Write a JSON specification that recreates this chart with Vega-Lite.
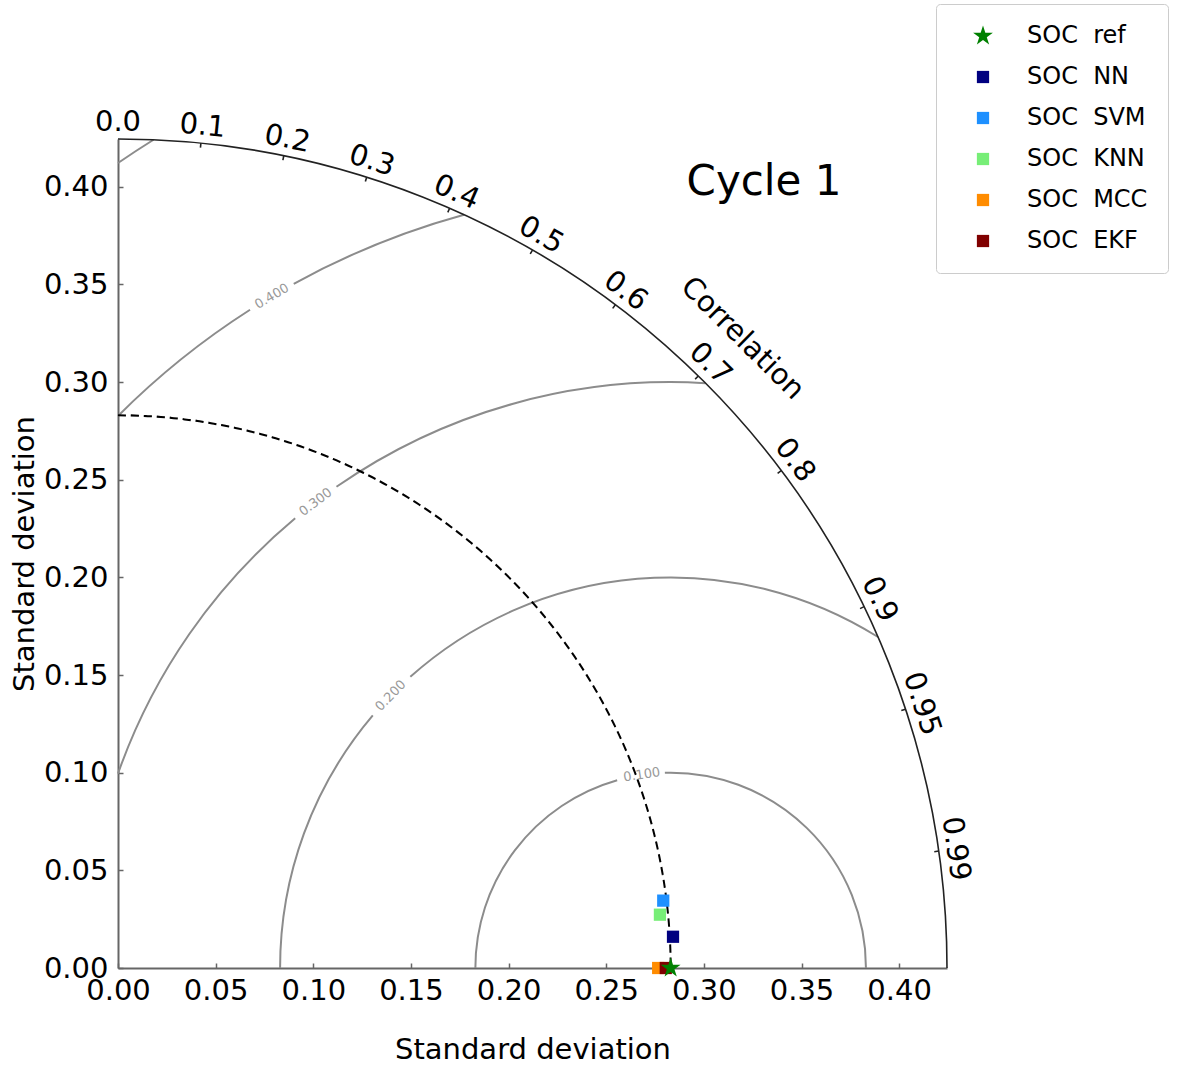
{
  "$schema": "https://vega.github.io/schema/vega-lite/v6.json",
  "width": 829,
  "height": 829,
  "autosize": "none",
  "padding": {"left": 118, "top": 139, "right": 245, "bottom": 100},
  "background": "white",
  "config": {
    "font": "DejaVu Sans",
    "view": {"stroke": null},
    "axis": {
      "labelFont": "DejaVu Sans", "labelFontSize": 29, "labelColor": "#000",
      "titleFont": "DejaVu Sans", "titleFontSize": 29, "titleFontWeight": "normal", "titleColor": "#000",
      "domainColor": "#666", "domainWidth": 2, "tickColor": "#666", "tickWidth": 1.5, "tickSize": -5,
      "grid": false, "labelFlush": false, "labelOverlap": false
    }
  },
  "datasets": {
    "contours": [
      {"cx": 0.283, "cy": 0, "r": 0.1, "t1": 90, "t2": -1.7},
      {"cx": 0.283, "cy": 0, "r": 0.1, "t1": -15.9, "t2": -90},
      {"cx": 0.283, "cy": 0, "r": 0.2, "t1": 32.07, "t2": -41.8},
      {"cx": 0.283, "cy": 0, "r": 0.2, "t1": -49.7, "t2": -90},
      {"cx": 0.283, "cy": 0, "r": 0.3, "t1": 3.41, "t2": -34.78},
      {"cx": 0.283, "cy": 0, "r": 0.3, "t1": -39.86, "t2": -70.62},
      {"cx": 0.283, "cy": 0, "r": 0.4, "t1": -15.34, "t2": -28.85},
      {"cx": 0.283, "cy": 0, "r": 0.4, "t1": -32.58, "t2": -45.03},
      {"cx": 0.283, "cy": 0, "r": 0.5, "t1": -31.98, "t2": -34.47}
    ],
    "contourLabels": [
      {"lab": "0.100", "r": 0.1, "t": -8.5},
      {"lab": "0.200", "r": 0.2, "t": -45.8},
      {"lab": "0.300", "r": 0.3, "t": -37.3},
      {"lab": "0.400", "r": 0.4, "t": -30.7}
    ],
    "frame": [
      {"r": 0.4245, "r2": 0.4245, "t1": 0, "t2": 90},
      {"r": 0.4245, "r2": 0.4222, "t1": 5.739, "t2": 5.739},
      {"r": 0.4245, "r2": 0.4222, "t1": 11.537, "t2": 11.537},
      {"r": 0.4245, "r2": 0.4222, "t1": 17.458, "t2": 17.458},
      {"r": 0.4245, "r2": 0.4222, "t1": 23.578, "t2": 23.578},
      {"r": 0.4245, "r2": 0.4222, "t1": 30.0, "t2": 30.0},
      {"r": 0.4245, "r2": 0.4222, "t1": 36.87, "t2": 36.87},
      {"r": 0.4245, "r2": 0.4222, "t1": 44.427, "t2": 44.427},
      {"r": 0.4245, "r2": 0.4222, "t1": 53.13, "t2": 53.13},
      {"r": 0.4245, "r2": 0.4222, "t1": 64.158, "t2": 64.158},
      {"r": 0.4245, "r2": 0.4222, "t1": 71.805, "t2": 71.805},
      {"r": 0.4245, "r2": 0.4222, "t1": 81.89, "t2": 81.89}
    ],
    "refArc": [{"r": 0.283, "t1": 0, "t2": 90}],
    "corrLabels": [
      {"lab": "0.0", "t": 0},
      {"lab": "0.1", "t": 5.739},
      {"lab": "0.2", "t": 11.537},
      {"lab": "0.3", "t": 17.458},
      {"lab": "0.4", "t": 23.578},
      {"lab": "0.5", "t": 30.0},
      {"lab": "0.6", "t": 36.87},
      {"lab": "0.7", "t": 44.427},
      {"lab": "0.8", "t": 53.13},
      {"lab": "0.9", "t": 64.158},
      {"lab": "0.95", "t": 71.805},
      {"lab": "0.99", "t": 81.89}
    ],
    "points": [
      {"m": "SOC MCC", "x": 0.2766, "y": 0.0},
      {"m": "SOC EKF", "x": 0.2805, "y": 0.0},
      {"m": "SOC KNN", "x": 0.2775, "y": 0.0273},
      {"m": "SOC SVM", "x": 0.2792, "y": 0.0345},
      {"m": "SOC NN", "x": 0.2842, "y": 0.016},
      {"m": "SOC ref", "x": 0.283, "y": 0.0}
    ]
  },
  "layer": [
    {
      "data": {"name": "points"},
      "mark": {"type": "point", "opacity": 0},
      "encoding": {
        "x": {"field": "x", "type": "quantitative", "scale": {"domain": [0, 0.4245], "nice": false, "zero": false},
              "axis": {"title": "Standard deviation", "values": [0, 0.05, 0.1, 0.15, 0.2, 0.25, 0.3, 0.35, 0.4], "format": ".2f", "labelPadding": 13, "titlePadding": 30}},
        "y": {"field": "y", "type": "quantitative", "scale": {"domain": [0, 0.4245], "nice": false, "zero": false},
              "axis": {"title": "Standard deviation", "values": [0, 0.05, 0.1, 0.15, 0.2, 0.25, 0.3, 0.35, 0.4], "format": ".2f", "labelPadding": 15, "titlePadding": 4}}
      }
    },
    {
      "data": {"name": "contours"},
      "mark": {"type": "arc", "filled": false, "stroke": "#8c8c8c", "strokeWidth": 2},
      "encoding": {
        "x": {"field": "cx", "type": "quantitative"},
        "y": {"field": "cy", "type": "quantitative"},
        "theta": {"field": "t1", "type": "quantitative", "stack": null, "scale": {"type": "linear", "domain": [0, 360], "range": [0, 6.283185307179586]}},
        "theta2": {"field": "t2"},
        "radius": {"field": "r", "type": "quantitative", "stack": null, "scale": {"type": "linear", "domain": [0, 0.4245], "range": [0, 829]}},
        "radius2": {"field": "r"}
      }
    },
    {
      "data": {"name": "frame"},
      "mark": {"type": "arc", "filled": false, "stroke": "#222", "strokeWidth": 1.6},
      "encoding": {
        "x": {"datum": 0, "type": "quantitative"},
        "y": {"datum": 0, "type": "quantitative"},
        "theta": {"field": "t1", "type": "quantitative", "stack": null},
        "theta2": {"field": "t2"},
        "radius": {"field": "r", "type": "quantitative", "stack": null},
        "radius2": {"field": "r2"}
      }
    },
    {
      "data": {"name": "refArc"},
      "mark": {"type": "arc", "filled": false, "stroke": "#000", "strokeWidth": 2, "strokeDash": [8, 4.9946]},
      "encoding": {
        "x": {"datum": 0, "type": "quantitative"},
        "y": {"datum": 0, "type": "quantitative"},
        "theta": {"field": "t1", "type": "quantitative", "stack": null},
        "theta2": {"field": "t2"},
        "radius": {"field": "r", "type": "quantitative", "stack": null},
        "radius2": {"field": "r"}
      }
    },
    {
      "data": {"name": "contourLabels"},
      "mark": {"type": "text", "fontSize": 13, "color": "#999", "align": "center", "baseline": "middle"},
      "encoding": {
        "x": {"datum": 0.283, "type": "quantitative"},
        "y": {"datum": 0, "type": "quantitative"},
        "theta": {"field": "t", "type": "quantitative", "stack": null},
        "radius": {"field": "r", "type": "quantitative", "stack": null},
        "angle": {"field": "t", "type": "quantitative", "scale": null},
        "text": {"field": "lab"}
      }
    },
    {
      "data": {"name": "corrLabels"},
      "mark": {"type": "text", "fontSize": 29, "color": "#000", "align": "center", "baseline": "middle"},
      "encoding": {
        "x": {"datum": 0, "type": "quantitative"},
        "y": {"datum": 0, "type": "quantitative"},
        "theta": {"field": "t", "type": "quantitative", "stack": null},
        "radius": {"datum": 0.4334, "type": "quantitative"},
        "angle": {"field": "t", "type": "quantitative", "scale": null},
        "text": {"field": "lab"}
      }
    },
    {
      "data": {"values": [{"lab": "Correlation", "t": 44.77}]},
      "mark": {"type": "text", "fontSize": 29, "color": "#000", "align": "center", "baseline": "middle"},
      "encoding": {
        "x": {"datum": 0, "type": "quantitative"},
        "y": {"datum": 0, "type": "quantitative"},
        "theta": {"field": "t", "type": "quantitative", "stack": null},
        "radius": {"datum": 0.4542, "type": "quantitative"},
        "angle": {"field": "t", "type": "quantitative", "scale": null},
        "text": {"field": "lab"}
      }
    },
    {
      "data": {"values": [{"lab": "Cycle 1", "x": 0.3308, "y": 0.4023}]},
      "mark": {"type": "text", "fontSize": 42, "color": "#000", "align": "center", "baseline": "middle"},
      "encoding": {
        "x": {"field": "x", "type": "quantitative"},
        "y": {"field": "y", "type": "quantitative"},
        "text": {"field": "lab"}
      }
    },
    {
      "data": {"name": "points"},
      "mark": {"type": "point", "filled": true, "size": 150, "opacity": 1},
      "encoding": {
        "x": {"field": "x", "type": "quantitative"},
        "y": {"field": "y", "type": "quantitative"},
        "color": {
          "field": "m", "type": "nominal",
          "scale": {"domain": ["SOC ref", "SOC NN", "SOC SVM", "SOC KNN", "SOC MCC", "SOC EKF"],
                    "range": ["#008000", "#000080", "#1e90ff", "#77ee77", "#ff8c00", "#800000"]},
          "legend": {
            "title": null, "orient": "none", "legendX": 818, "legendY": -135,
            "padding": 20, "strokeColor": "#cccccc", "fillColor": "white", "cornerRadius": 4,
            "labelFontSize": 24, "labelFont": "DejaVu Sans", "labelColor": "#000",
            "symbolOffset": 15, "labelOffset": 32, "rowPadding": 17, "symbolSize": 150,
            "symbolStrokeWidth": 0,
            "labelExpr": "replace(datum.label, ' ', '\u00a0\u00a0') + '\u00a0\u00a0\u00a0\u00a0\u00a0\u00a0\u00a0\u00a0\u00a0'"
          }
        },
        "shape": {
          "field": "m", "type": "nominal",
          "scale": {"domain": ["SOC ref", "SOC NN", "SOC SVM", "SOC KNN", "SOC MCC", "SOC EKF"],
                    "range": ["M0,-1.7L0.382,-0.525L1.617,-0.525L0.617,0.2L1,1.375L0,0.65L-1,1.375L-0.617,0.2L-1.617,-0.525L-0.382,-0.525Z", "square", "square", "square", "square", "square"]}
        }
      }
    }
  ]
}
